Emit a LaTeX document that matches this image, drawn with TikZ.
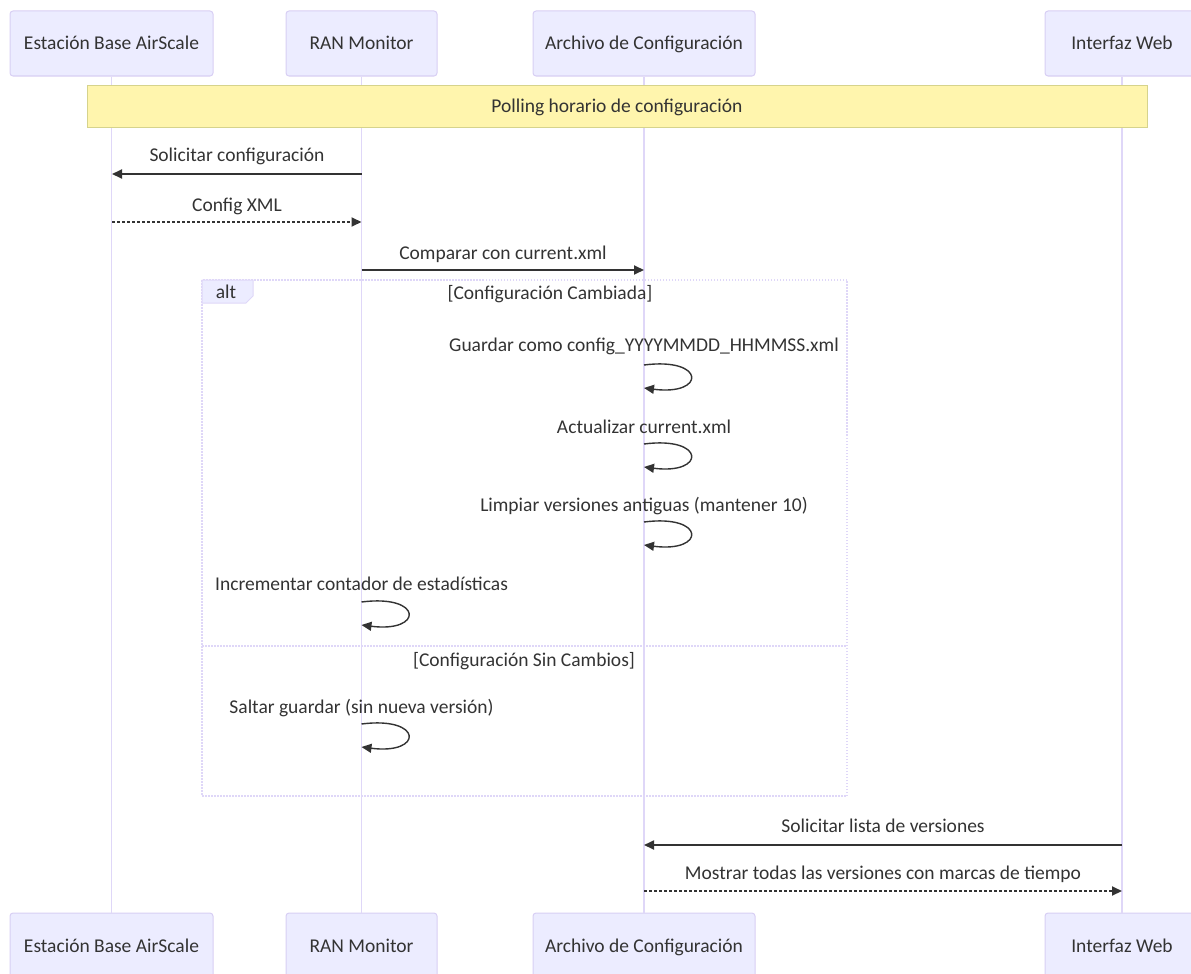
\documentclass[tikz,border=0pt]{standalone}
\usepackage{fontspec}
\setmainfont{Carlito}
\usepackage{xcolor}
\usepackage{tikz}
\usetikzlibrary{arrows.meta,positioning}
\definecolor{actorfill}{HTML}{ECECFF}
\definecolor{actorline}{HTML}{D8CFF4}
\definecolor{lifecol}{HTML}{DFD7F8}
\definecolor{notefill}{HTML}{FFF5AD}
\definecolor{noteline}{HTML}{D6D38C}
\definecolor{txtcol}{HTML}{333333}
\tikzset{
  actor/.style={draw=actorline, fill=actorfill, rounded corners=3pt, line width=1pt,
    minimum height=65pt, inner sep=0pt, text=txtcol, text height=13pt, text depth=0pt,
    font=\fontsize{19.5}{22}\selectfont},
  lifeline/.style={draw=lifecol, line width=1.6pt},
  msg/.style={draw=txtcol, line width=1.8pt, -{Triangle[length=10pt,width=9pt]}},
  reply/.style={msg, dash pattern=on 2.5pt off 2.5pt},
  msgtxt/.style={text=txtcol, inner sep=0pt, text height=13pt, text depth=0pt,
    font=\fontsize{19.5}{22}\selectfont},
  selfloop/.style={draw=txtcol, line width=1.4pt, -{Triangle[length=10pt,width=9pt]}},
  frame/.style={draw=lifecol, line width=1.5pt, dash pattern=on 1.5pt off 1.5pt}
}

\begin{document}
\begin{tikzpicture}[x=1pt,y=-1pt]
\useasboundingbox (0,0) rectangle (1191,974);

% participantes arriba
\node[actor, minimum width=203pt] (base) at (111.5,43.5) {Estación Base AirScale};
\node[actor, minimum width=151pt] (ran) at (361.5,43.5) {RAN Monitor};
\node[actor, minimum width=222pt] (arch) at (644,43.5) {Archivo de Configuración};
\node[actor, minimum width=154pt] (web) at (1122,43.5) {Interfaz Web};

% participantes abajo
\node[actor, minimum width=203pt] (base2) at (111.5,945.5) {Estación Base AirScale};
\node[actor, minimum width=151pt] (ran2) at (361.5,945.5) {RAN Monitor};
\node[actor, minimum width=222pt] (arch2) at (644,945.5) {Archivo de Configuración};
\node[actor, minimum width=154pt] (web2) at (1122,945.5) {Interfaz Web};

% lineas de vida
\draw[lifeline] (base.south)--(base2.north);
\draw[lifeline] (ran.south)--(ran2.north);
\draw[lifeline] (arch.south)--(arch2.north);
\draw[lifeline] (web.south)--(web2.north);

% nota
\node[draw=noteline, fill=notefill, line width=1pt, minimum width=1060pt, minimum height=42pt,
  inner sep=0pt, msgtxt] (poll) at (617,106) {Polling horario de configuración};

% mensajes
\coordinate (m1a) at (361.5,174) ;
\coordinate (m1b) at (112,174) ;
\coordinate (m2a) at (112,222) ;
\coordinate (m2b) at (361.5,222) ;
\coordinate (m3a) at (361.5,270) ;
\coordinate (m3b) at (644,270) ;
\draw[msg](m1a)--(m1b);
\node[msgtxt] (t1) at (237,155) {Solicitar configuración};
\draw[reply](m2a)--(m2b);
\node[msgtxt] (t2) at (237,205) {Config XML};
\draw[msg](m3a)--(m3b);
\node[msgtxt] (t3) at (503,253) {Comparar con current.xml};

% bloque alt
\coordinate (altNW) at (202,280) ;
\coordinate (altSE) at (847,796) ;
\coordinate (divL) at (202,646) ;
\coordinate (divR) at (847,646) ;
\draw[frame] (altNW) rectangle (altSE);
\draw[frame] (divL)--(divR);
\draw[draw=lifecol, fill=actorfill, line width=1pt] (altNW) -- (253,280) -- (253,296) -- (246,303) -- (202,303) -- cycle;
\node[msgtxt] (alt) at (226,292) {alt};
\node[msgtxt] (c1) at (550,293) {[Configuración Cambiada]};
\node[msgtxt] (c2) at (524,660) {[Configuración Sin Cambios]};

% auto-mensajes
\coordinate (g1) at (644,365) ;
\coordinate (g2) at (644,388) ;
\coordinate (a1) at (644,444) ;
\coordinate (a2) at (644,467) ;
\coordinate (l1) at (644,522) ;
\coordinate (l2) at (644,545) ;
\coordinate (i1) at (361.5,602) ;
\coordinate (i2) at (361.5,625) ;
\coordinate (s1) at (361.5,724) ;
\coordinate (s2) at (361.5,747) ;
\node[msgtxt] (tg) at (644,345) {Guardar como config\_YYYYMMDD\_HHMMSS.xml};
\draw[selfloop] (g1) .. controls +(62,-8) and +(62,8) .. (g2);
\node[msgtxt] (ta) at (644,427) {Actualizar current.xml};
\draw[selfloop] (a1) .. controls +(62,-8) and +(62,8) .. (a2);
\node[msgtxt] (tl) at (644,505) {Limpiar versiones antiguas (mantener 10)};
\draw[selfloop] (l1) .. controls +(62,-8) and +(62,8) .. (l2);
\node[msgtxt] (ti) at (361.5,584) {Incrementar contador de estadísticas};
\draw[selfloop] (i1) .. controls +(62,-8) and +(62,8) .. (i2);
\node[msgtxt] (ts) at (361.5,707) {Saltar guardar (sin nueva versión)};
\draw[selfloop] (s1) .. controls +(62,-8) and +(62,8) .. (s2);

% interfaz web
\coordinate (w1a) at (1122,845) ;
\coordinate (w1b) at (644,845) ;
\coordinate (w2a) at (644,891) ;
\coordinate (w2b) at (1122,891) ;
\draw[msg](w1a)--(w1b);
\node[msgtxt] (tw1) at (883,826) {Solicitar lista de versiones};
\draw[reply](w2a)--(w2b);
\node[msgtxt] (tw2) at (883,873) {Mostrar todas las versiones con marcas de tiempo};
\end{tikzpicture}
\end{document}
